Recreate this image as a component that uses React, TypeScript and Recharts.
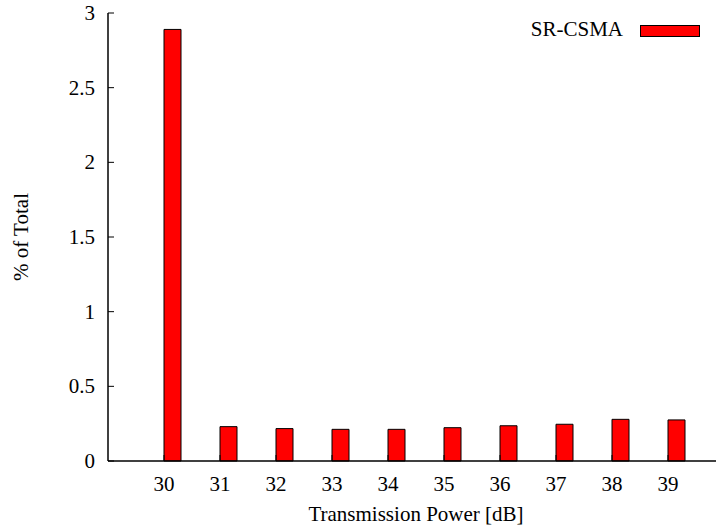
import { BarChart, Bar, XAxis, YAxis } from "recharts";

const powers = [30, 31, 32, 33, 34, 35, 36, 37, 38, 39];
const srCsma = [2.89, 0.23, 0.217, 0.212, 0.212, 0.223, 0.236, 0.246, 0.279, 0.275];
const yTicks = [0, 0.5, 1, 1.5, 2, 2.5, 3];
const seriesName = "SR-CSMA";

const FONT = "'Liberation Serif', 'Times New Roman', serif";

const data = powers.map((p, i) => ({ x: p, pad: 0, value: srCsma[i] }));

const BottomTick = (props: any) => {
  const { x, y, payload } = props;
  return (
    <g>
      <line x1={x} y1={y} x2={x} y2={y - 6} stroke="#000" />
      <text x={x} y={y + 30} textAnchor="middle" fontFamily={FONT} fontSize={21} fill="#000">
        {payload.value}
      </text>
    </g>
  );
};

const TopTick = (props: any) => {
  const { x, y } = props;
  return <line x1={x} y1={y} x2={x} y2={y + 6} stroke="#000" />;
};

const LeftTick = (props: any) => {
  const { x, y, payload } = props;
  return (
    <g>
      <line x1={x} y1={y} x2={x + 6} y2={y} stroke="#000" />
      <text x={x - 13} y={y + 7} textAnchor="end" fontFamily={FONT} fontSize={21} fill="#000">
        {payload.value}
      </text>
    </g>
  );
};

const LegendBox = () => (
  <div style={{ position: "absolute", left: 0, top: 0, width: 716, height: 60, pointerEvents: "none" }}>
    <span
      style={{
        position: "absolute",
        right: 716 - 623,
        top: 17,
        fontFamily: FONT,
        fontSize: 21,
        lineHeight: "24px",
        color: "#000",
        whiteSpace: "nowrap",
      }}
    >
      {seriesName}
    </span>
    <div
      style={{
        position: "absolute",
        left: 640,
        top: 25,
        width: 58,
        height: 10,
        background: "#ff0000",
        border: "1px solid #000",
      }}
    />
  </div>
);

export default function App() {
  return (
    <div
      style={{
        position: "absolute",
        left: 0,
        top: 0,
        width: 716,
        height: 530,
        overflow: "hidden",
        background: "#fff",
      }}
    >
      <BarChart
        width={740}
        height={530}
        data={data}
        margin={{ top: 13, right: 16, bottom: 29, left: 0 }}
        barGap={0}
        barSize={17}
      >
        <XAxis
          dataKey="x"
          type="number"
          domain={[29, 40]}
          ticks={powers}
          allowDataOverflow
          height={40}
          tickSize={0}
          tickMargin={0}
          tickLine={false}
          axisLine={{ stroke: "#000", strokeWidth: 1.5 }}
          tick={<BottomTick />}
          label={{
            content: (p: any) => {
              const vb = p.viewBox;
              return (
                <text
                  x={vb.x + vb.width / 2}
                  y={vb.y + 60}
                  textAnchor="middle"
                  fontFamily={FONT}
                  fontSize={21}
                  fill="#000"
                >
                  Transmission Power [dB]
                </text>
              );
            },
          }}
        />
        <XAxis
          xAxisId="top"
          orientation="top"
          type="number"
          domain={[29, 40]}
          ticks={powers}
          height={0}
          tickSize={0}
          tickMargin={0}
          tickLine={false}
          axisLine={{ stroke: "#000", strokeWidth: 1.5 }}
          tick={<TopTick />}
        />
        <YAxis
          type="number"
          domain={[0, 3]}
          ticks={yTicks}
          width={108}
          tickSize={0}
          tickMargin={0}
          tickLine={false}
          axisLine={{ stroke: "#000", strokeWidth: 1.5 }}
          tick={<LeftTick />}
          label={{
            content: (p: any) => {
              const vb = p.viewBox;
              const cx = vb.x + 28;
              const cy = vb.y + vb.height / 2;
              return (
                <text
                  x={cx}
                  y={cy}
                  transform={`rotate(-90 ${cx} ${cy})`}
                  textAnchor="middle"
                  fontFamily={FONT}
                  fontSize={21}
                  fill="#000"
                >
                  % of Total
                </text>
              );
            },
          }}
        />
        <Bar dataKey="pad" fill="none" stroke="none" isAnimationActive={false} legendType="none" />
        <Bar dataKey="value" name={seriesName} fill="#ff0000" stroke="#000" strokeWidth={1} isAnimationActive={false} />
      </BarChart>
      <LegendBox />
    </div>
  );
}
